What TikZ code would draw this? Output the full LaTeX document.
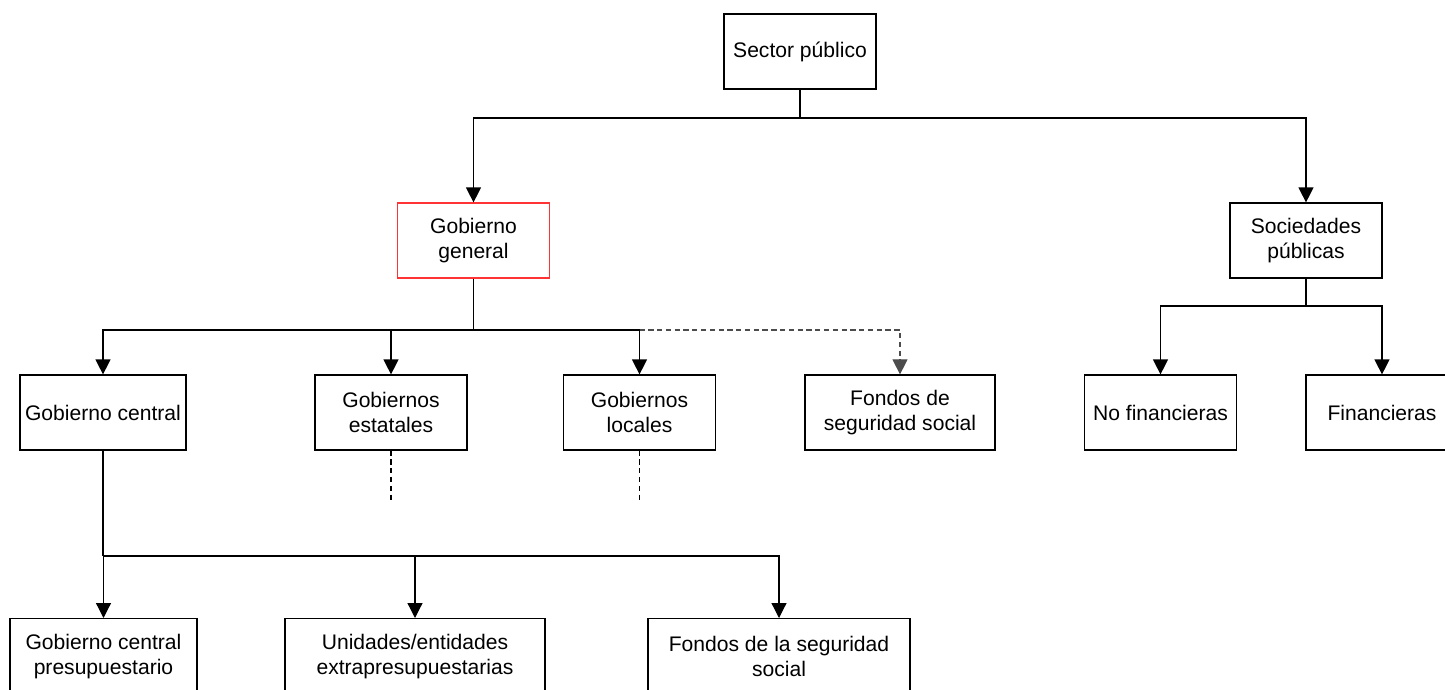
\documentclass[tikz,border=0pt]{standalone}
\usepackage{fontspec}
\setmainfont{Liberation Sans}
\usepackage{tikz}
\usetikzlibrary{arrows.meta}
\usetikzlibrary{positioning}
\tikzset{box/.style = {draw, rectangle, line width = 0.7pt, align = center,
                       minimum width = 3.04cm, minimum height = 1.5cm,
                       inner sep = 0, font = \fontsize{12}{14.2}\selectfont}}
\tikzset{arr/.style = {line width = 0.7pt,
                       -{Triangle[width = 0.3cm, length = 0.3cm]}}}
\tikzset{link/.style = {line width = 0.7pt}}
\tikzset{dline/.style = {line width = 0.6pt, dash pattern = on 3pt off 2pt, mgray}}
\definecolor{mgray}{rgb}{0.3, 0.3, 0.3}
\definecolor{mred}{rgb}{1, 0.2, 0.2}

\begin{document}
\begin{tikzpicture}[x = 0.02cm, y = -0.02cm]
      \clip (0, 0) rectangle (1445, 690);

      \node [box] (sp) at (800, 51.5) {Sector público};
      \node [box, draw = mred] (gg) at (473.5, 240.5) {Gobierno\\general};
      \node [box] (soc) at (1306, 240.5) {Sociedades\\públicas};

      \node [box, minimum width = 3.32cm] (gc) at (103, 412.5) {Gobierno central};
      \node [box] (ge) at (391, 412.5) {Gobiernos\\estatales};
      \node [box] (gl) at (639.5, 412.5) {Gobiernos\\locales};
      \node [box, minimum width = 3.8cm] (fs) at (900, 412.5) {Fondos de\\seguridad social};
      \node [box] (nf) at (1160.5, 412.5) {No financieras};
      \node [box] (fi) at (1382, 412.5) {Financieras};

      \node [box, minimum width = 3.74cm, anchor = north] (gcp) at (103.5, 618) {Gobierno central\\presupuestario};
      \node [box, minimum width = 5.2cm, anchor = north] (ue) at (415, 618) {Unidades/entidades\\extrapresupuestarias};
      \node [box, minimum width = 5.24cm, anchor = north] (fss) at (779, 618) {Fondos de la seguridad\\social};

      \coordinate (j1) at (800, 118);
      \coordinate (j2) at (473.5, 330);
      \coordinate (j3) at (1306, 306);
      \coordinate (j4) at (103, 556);
      \coordinate (ge-end) at (391, 503);
      \coordinate (gl-end) at (639.5, 503);

      \draw [link] (sp) -- (j1);
      \draw [arr] (j1) -| (gg);
      \draw [arr] (j1) -| (soc);

      \draw [link] (gg) -- (j2);
      \draw [arr] (j2) -| (gc);
      \draw [arr] (j2) -| (ge);
      \draw [arr] (j2) -| (gl);
      \draw [dline, -{Triangle[width = 0.3cm, length = 0.3cm]}] (gl.north |- j2) -| (fs);

      \draw [dline, black] (ge) -- (ge-end);
      \draw [dline, black] (gl) -- (gl-end);

      \draw [link] (soc) -- (j3);
      \draw [arr] (j3) -| (nf);
      \draw [arr] (j3) -| (fi);

      \draw [link] (gc) -- (j4);
      \draw [arr] (j4) -| (gcp);
      \draw [arr] (j4) -| (ue);
      \draw [arr] (j4) -| (fss);
    \end{tikzpicture}
\end{document}
